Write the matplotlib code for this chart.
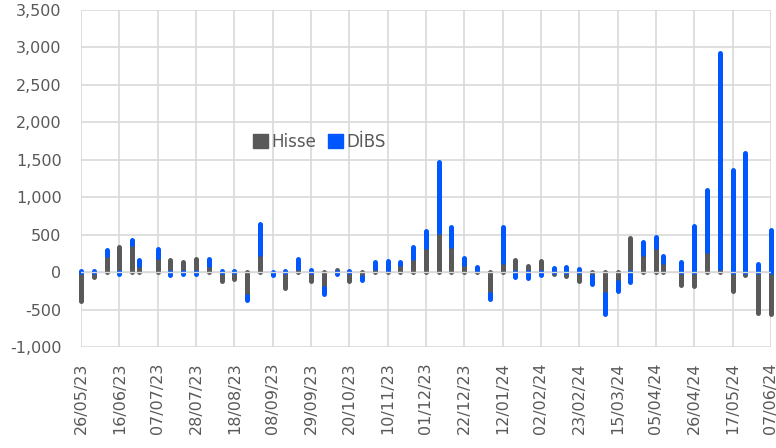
import matplotlib
matplotlib.use("Agg")
import matplotlib.pyplot as plt
import matplotlib.dates as mdates
from matplotlib.patches import Patch
from matplotlib.ticker import FuncFormatter, MultipleLocator
import pandas as pd

dates = ["2023-05-26", "2023-06-02", "2023-06-09", "2023-06-16", "2023-06-23", "2023-06-27",
         "2023-07-07", "2023-07-14", "2023-07-21", "2023-07-28", "2023-08-04", "2023-08-11",
         "2023-08-18", "2023-08-25", "2023-09-01", "2023-09-08", "2023-09-15", "2023-09-22",
         "2023-09-29", "2023-10-06", "2023-10-13", "2023-10-20", "2023-10-27", "2023-11-03",
         "2023-11-10", "2023-11-17", "2023-11-24", "2023-12-01", "2023-12-08", "2023-12-15",
         "2023-12-22", "2023-12-29", "2024-01-05", "2024-01-12", "2024-01-19", "2024-01-26",
         "2024-02-02", "2024-02-09", "2024-02-16", "2024-02-23", "2024-03-01", "2024-03-08",
         "2024-03-15", "2024-03-22", "2024-03-29", "2024-04-05", "2024-04-09", "2024-04-19",
         "2024-04-26", "2024-05-03", "2024-05-10", "2024-05-17", "2024-05-24", "2024-05-31",
         "2024-06-07"]

hisse = [-390, -60, 230, 330, 380, 90, 200, 165, 140, 180, 100, -120,
         -95, -320, 240, 5, -215, 50, -120, -215, 30, -125, -70, 55,
         30, 115, 195, 335, 530, 355, 110, 25, -290, 130, 160, 80,
         145, -20, -50, -120, -55, -290, -135, 450, 245, 335, 130, -170,
         -180, 280, 50, -250, -45, -540, -555]

dibs = [10, 10, 60, -30, 45, 75, 110, -45, -20, -20, 70, 10,
        10, -55, 400, -45, 15, 130, 35, -80, -20, 15, -40, 80,
        125, 20, 140, 215, 940, 245, 80, 45, -75, 470, -60, -75,
        -35, 60, 75, 45, -110, -270, -120, -130, 155, 135, 90, 130,
        615, 810, 2880, 1360, 1590, 115, 560]

series_names = ["Hisse", "DİBS"]
colors = ["#595959", "#0057FF"]

tick_start = "2023-05-26"
tick_end = "2024-06-07"

x = mdates.date2num(pd.to_datetime(dates))

# stacking: positives on positives, negatives on negatives
h0, h1, d0, d1 = [], [], [], []
for h, d in zip(hisse, dibs):
    h0.append(0)
    h1.append(h)
    base = max(h, 0) if d >= 0 else min(h, 0)
    d0.append(base)
    d1.append(base + d)

plt.rcParams['font.family'] = ['DejaVu Sans']

fig = plt.figure(figsize=(7.76, 4.48), dpi=100)
ax = fig.add_axes([0.1044, 0.2254, 0.889, 0.7523])

lw = 3.6
lc1 = ax.vlines(x, h0, h1, colors=colors[0], linewidth=lw, zorder=3, clip_on=False)
lc1.set_capstyle('round')
lc2 = ax.vlines(x, d0, d1, colors=colors[1], linewidth=lw, zorder=4, clip_on=False)
lc2.set_capstyle('round')

ax.axhline(0, color="#D9D9D9", linewidth=1.0, zorder=5)

t0 = mdates.date2num(pd.Timestamp(tick_start))
t1 = mdates.date2num(pd.Timestamp(tick_end))
ax.set_xlim(t0, t1)
ax.set_ylim(-1000, 3500)
ticks = [t0 + 21 * k for k in range(int((t1 - t0) / 21) + 1)]
ax.set_xticks(ticks)
ax.xaxis.set_major_formatter(mdates.DateFormatter("%d/%m/%y"))
ax.yaxis.set_major_locator(MultipleLocator(500))
ax.yaxis.set_major_formatter(FuncFormatter(lambda v, p: f"{int(v):,}"))

ax.grid(True, color="#D9D9D9", linewidth=1.2, zorder=0)
ax.set_axisbelow(True)
for s in ax.spines.values():
    s.set_visible(False)
ax.tick_params(axis='both', length=0, labelcolor="#595959", labelsize=11.5)
ax.tick_params(axis='y', pad=14)
ax.tick_params(axis='x', pad=11)
for lab in ax.get_xticklabels():
    lab.set_rotation(90)

handles = [Patch(facecolor=colors[0], edgecolor=colors[0]),
           Patch(facecolor=colors[1], edgecolor=colors[1])]
leg = ax.legend(handles, series_names, loc='center', bbox_to_anchor=(0.346, 0.608),
                ncol=2, frameon=False, fontsize=12, handlelength=0.9, handleheight=0.9,
                handletextpad=0.2, columnspacing=0.7, labelcolor="#595959")

fig.savefig("out.png", dpi=100)
